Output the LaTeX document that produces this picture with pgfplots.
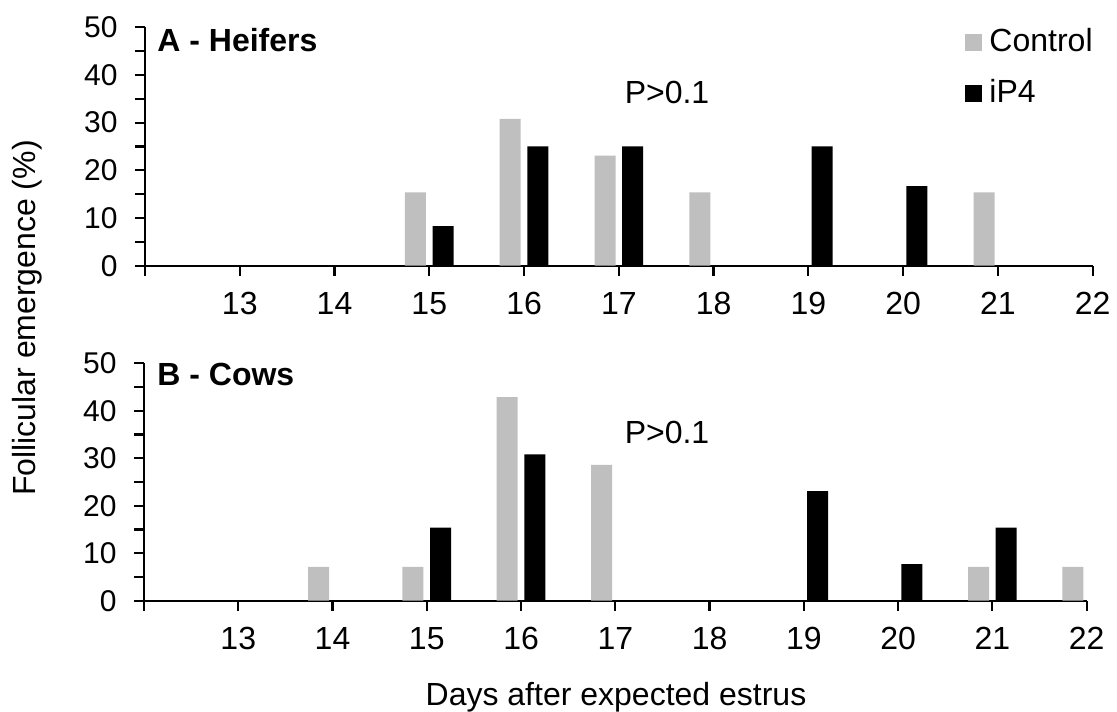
\documentclass[border=0pt]{standalone}
\usepackage{fontspec}
\setmainfont{Liberation Sans}
\usepackage{pgfplots}
\pgfplotsset{compat=1.18}
\definecolor{ctrlgray}{RGB}{191,191,191}
\pgfplotsset{
  /pgf/number format/assume math mode=true,
  panel/.style={
    scale only axis,
    xmin=12, xmax=22, ymin=0, ymax=50,
    axis x line*=bottom, axis y line*=left,
    axis line style={line width=1.1pt},
    every tick/.style={line width=1.1pt, black},
    tick align=outside,
    major tick length=5pt, minor tick length=5pt,
    xtick={12,13,...,22},
    xticklabels={,13,14,15,16,17,18,19,20,21,22},
    ytick={0,10,...,50},
    minor ytick={5,15,...,45},
    xticklabel style={font=\fontsize{16}{19}\selectfont, inner sep=0pt, anchor=north, yshift=-8pt},
    yticklabel style={font=\fontsize{15}{18}\selectfont, inner sep=0pt, anchor=east, xshift=-8.5pt},
    clip=false,
  },
  ctrl/.style={ybar, bar width=10.5pt, bar shift=-6.9pt, fill=ctrlgray, draw=none},
  ip/.style={ybar, bar width=10.5pt, bar shift=6.9pt, fill=black, draw=none},
}
\begin{document}
\begin{tikzpicture}
\useasboundingbox (0,0) rectangle (558.5pt,355.5pt);
% Top panel: Heifers
\begin{axis}[panel,
  at={(72.5pt,222.65pt)}, anchor=south west,
  width=473.8pt, height=119.2pt,
  legend style={draw=none, fill=none, inner sep=0pt,
    at={(0.8654,0.999)}, anchor=north west,
    font=\fontsize{16}{19}\selectfont,
    nodes={inner sep=0pt, text height=12pt, text depth=0pt},
    row sep=13.5pt, column sep=3.5pt},
  legend cell align=left,
  legend image code/.code={\fill[#1] (0pt,-5.5pt) rectangle (8.5pt,3pt);},
]
\addplot[ctrl] coordinates {(15,15.4) (16,30.8) (17,23.1) (18,15.4) (21,15.4)};
\addplot[ip] coordinates {(15,8.3) (16,25) (17,25) (19,25) (20,16.7)};
\legend{Control, iP4}
\end{axis}
% Bottom panel: Cows
\begin{axis}[panel,
  at={(72pt,55.15pt)}, anchor=south west,
  width=471.3pt, height=118.7pt,
]
\addplot[ctrl] coordinates {(14,7.1) (15,7.1) (16,42.9) (17,28.6) (21,7.1) (22,7.1)};
\addplot[ip] coordinates {(15,15.4) (16,30.8) (19,23.1) (20,7.7) (21,15.4)};
\end{axis}
\node[inner sep=0pt, anchor=base west, font=\fontsize{16}{19}\selectfont\bfseries] at (78.5pt,329.65pt) {A - Heifers};
\node[inner sep=0pt, anchor=base west, font=\fontsize{16}{19}\selectfont\bfseries] at (78.5pt,162.5pt) {B - Cows};
\node[inner sep=0pt, anchor=base, font=\fontsize{16}{19}\selectfont] at (333.5pt,303.5pt) {P>0.1};
\node[inner sep=0pt, anchor=base, font=\fontsize{16}{19}\selectfont] at (333.5pt,133.5pt) {P>0.1};
\node[inner sep=0pt, anchor=center, rotate=90, font=\fontsize{16}{19}\selectfont] at (13.5pt,196.5pt) {Follicular emergence (\%)};
\node[inner sep=0pt, anchor=base, font=\fontsize{16}{19}\selectfont] at (308pt,2.5pt) {Days after expected estrus};
\end{tikzpicture}
\end{document}
